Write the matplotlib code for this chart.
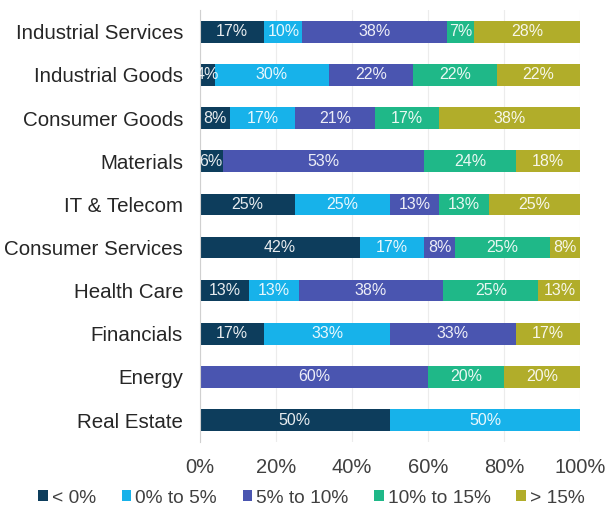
import numpy as np
import matplotlib.pyplot as plt

plt.rcParams['font.family'] = ['Liberation Sans', 'DejaVu Sans']

# Sector breakdown by return bucket (% of companies)
sectors = ['Industrial Services', 'Industrial Goods', 'Consumer Goods', 'Materials',
           'IT & Telecom', 'Consumer Services', 'Health Care', 'Financials',
           'Energy', 'Real Estate']
buckets = ['< 0%', '0% to 5%', '5% to 10%', '10% to 15%', '> 15%']

below_0 = [17, 4, 8, 6, 25, 42, 13, 17, 0, 50]
from_0_to_5 = [10, 30, 17, 0, 25, 17, 13, 33, 0, 50]
from_5_to_10 = [38, 22, 21, 53, 13, 8, 38, 33, 60, 0]
from_10_to_15 = [7, 22, 17, 24, 13, 25, 25, 0, 20, 0]
above_15 = [28, 22, 38, 18, 25, 8, 13, 17, 20, 0]

colors = ['#0d3d5c', '#17b2ea', '#4a55b0', '#1fb888', '#b1ad2a']

series = [below_0, from_0_to_5, from_5_to_10, from_10_to_15, above_15]

fig = plt.figure(figsize=(6.07, 5.13), dpi=100)
ax = fig.add_axes([0.329, 0.139, 0.627, 0.841])

y = np.arange(len(sectors))
left = np.zeros(len(sectors))
for vals, name, col in zip(series, buckets, colors):
    vals = np.array(vals, dtype=float)
    bars = ax.barh(y, vals, left=left, height=0.5, color=col, label=name, zorder=2)
    labels = [f'{int(v)}%' if v > 0 else '' for v in vals]
    ax.bar_label(bars, labels=labels, label_type='center', color='white',
                 fontsize=11.5, alpha=0.9)
    left += vals

ax.set_ylim(len(sectors) - 0.5, -0.5)
ax.set_xlim(0, 100)
ax.set_yticks(y)
ax.set_yticklabels(sectors, fontsize=14.8, color='#262626')
ax.set_xticks(np.arange(0, 101, 20))
ax.set_xticklabels([f'{t}%' for t in range(0, 101, 20)], fontsize=14.5, color='#404040')
ax.tick_params(axis='y', length=0, pad=12)
ax.tick_params(axis='x', length=0, pad=12)

ax.grid(axis='x', color='#ececec', linewidth=0.8, zorder=0)
for s in ['top', 'right', 'bottom']:
    ax.spines[s].set_visible(False)
ax.spines['left'].set_color('#d0d0d0')

fig.legend(loc='center', bbox_to_anchor=(0.513, 0.029), ncol=5, frameon=False,
           fontsize=13.8, handlelength=0.5, handleheight=0.5, handletextpad=0.2,
           columnspacing=1.35, labelcolor='#404040')

fig.savefig('out.png', dpi=100)
